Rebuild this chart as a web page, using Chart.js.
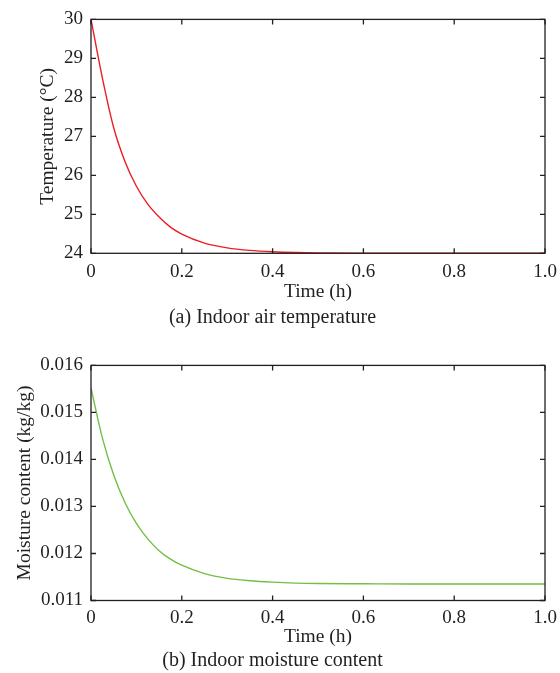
<!DOCTYPE html>
<html>
<head>
<meta charset="utf-8">
<script src="https://cdn.jsdelivr.net/npm/chart.js@4/dist/chart.umd.min.js"></script>
<style>
  body { margin: 0; background: #fff; }
  canvas { position: absolute; left: 0; }
  #tempChart { top: 0; }
  #moistChart { top: 346px; }
</style>
</head>
<body>
<canvas id="tempChart" width="560" height="346"></canvas>
<canvas id="moistChart" width="560" height="327"></canvas>
<script>
// time axis (h), shared by both panels
const timeH = [0, 0.025, 0.05, 0.075, 0.1, 0.125, 0.15, 0.175, 0.2, 0.25, 0.3, 0.35, 0.4, 0.45, 0.5, 0.6, 0.7, 0.8, 0.9, 1.0];
// (a) indoor air temperature, °C
const airTemp = [30, 28.5, 27.22, 26.35, 25.72, 25.26, 24.93, 24.67, 24.49, 24.26, 24.14, 24.075, 24.04, 24.02, 24.01, 24.0, 24.0, 24.0, 24.0, 24.0];
// (b) indoor moisture content, kg/kg
const moisture = [0.01552, 0.01446, 0.01367, 0.01308, 0.01264, 0.01231, 0.01206, 0.01188, 0.01175, 0.01157, 0.01147, 0.01142, 0.01139, 0.01137, 0.01136, 0.011355, 0.01135, 0.01135, 0.01135, 0.01135];

const xTicks = [0, 0.2, 0.4, 0.6, 0.8, 1.0];
const tempTicks = [24, 25, 26, 27, 28, 29, 30];
const moistTicks = [0.011, 0.012, 0.013, 0.014, 0.015, 0.016];

const serif = "'Liberation Serif', 'Times New Roman', serif";
const ink = '#231f20';

// closed frame with inward ticks on all four sides
const frameTicks = {
    id: 'frameTicks',
    afterDraw(chart) {
        const { ctx, chartArea: a, scales } = chart;
        const len = 5;
        ctx.save();
        ctx.strokeStyle = ink;
        ctx.lineWidth = 1.3;
        ctx.strokeRect(a.left, a.top, a.right - a.left, a.bottom - a.top);
        ctx.beginPath();
        scales.x.ticks.forEach(t => {
            const px = scales.x.getPixelForValue(t.value);
            ctx.moveTo(px, a.bottom); ctx.lineTo(px, a.bottom - len);
            ctx.moveTo(px, a.top); ctx.lineTo(px, a.top + len);
        });
        scales.y.ticks.forEach(t => {
            const py = scales.y.getPixelForValue(t.value);
            ctx.moveTo(a.left, py); ctx.lineTo(a.left + len, py);
            ctx.moveTo(a.right, py); ctx.lineTo(a.right - len, py);
        });
        ctx.stroke();
        ctx.restore();
    }
};

function makePanel(id, values, color, yTicks, yTitle, yTitlePad, caption, lay) {
    return new Chart(document.getElementById(id), {
        type: 'line',
        data: {
            datasets: [{
                data: timeH.map((t, i) => ({ x: t, y: values[i] })),
                borderColor: color,
                borderWidth: 1.4,
                pointRadius: 0,
                cubicInterpolationMode: 'monotone',
                fill: false
            }]
        },
        options: {
            responsive: false,
            animation: false,
            devicePixelRatio: 1,
            layout: { padding: { top: lay.top, right: 15, bottom: lay.bottom, left: 0 } },
            plugins: {
                legend: { display: false },
                tooltip: { enabled: false },
                title: {
                    display: true,
                    position: 'bottom',
                    text: caption,
                    color: ink,
                    font: { family: serif, size: 20, weight: 'normal' },
                    padding: 0
                }
            },
            scales: {
                x: {
                    type: 'linear',
                    min: 0, max: 1,
                    afterBuildTicks: s => { s.ticks = xTicks.map(v => ({ value: v })); },
                    afterFit: s => { s.height = lay.xh; s.paddingLeft = 0; s.paddingRight = 0; },
                    grid: { display: false, drawTicks: false },
                    border: { display: false },
                    ticks: {
                        padding: lay.tickPad,
                        color: ink,
                        font: { family: serif, size: 19 },
                        maxRotation: 0,
                        callback: v => v === 0 ? '0' : v.toFixed(1)
                    },
                    title: {
                        display: true,
                        text: 'Time (h)',
                        color: ink,
                        font: { family: serif, size: 19.5 },
                        padding: { top: 0, bottom: lay.xTitlePad }
                    }
                },
                y: {
                    type: 'linear',
                    min: yTicks[0], max: yTicks[yTicks.length - 1],
                    afterBuildTicks: s => { s.ticks = yTicks.map(v => ({ value: v })); },
                    afterFit: s => { s.width = 91; },
                    grid: { display: false, drawTicks: false },
                    border: { display: false },
                    ticks: {
                        padding: 8,
                        color: ink,
                        font: { family: serif, size: 19 },
                        callback: v => yTicks[0] < 1 ? v.toFixed(3) : String(v)
                    },
                    title: {
                        display: true,
                        text: yTitle,
                        color: ink,
                        font: { family: serif, size: 19.5 },
                        padding: { top: yTitlePad, bottom: 0 }
                    }
                }
            }
        },
        plugins: [frameTicks]
    });
}

makePanel('tempChart', airTemp, '#ee1d23', tempTicks, 'Temperature (°C)', 36,
    '(a) Indoor air temperature',
    { top: 18, bottom: 16, xh: 52.7, tickPad: 7, xTitlePad: 2.3 });

makePanel('moistChart', moisture, '#72bf44', moistTicks, 'Moisture content (kg/kg)', 13,
    '(b) Indoor moisture content',
    { top: 19, bottom: 0, xh: 48.5, tickPad: 6, xTitlePad: 0.3 });
</script>
</body>
</html>
